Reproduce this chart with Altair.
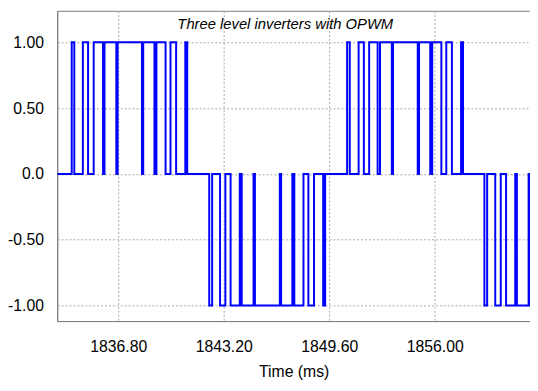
import altair as alt
import pandas as pd

edge_time = [
    # positive half-cycle 1
    1833.973, 1834.129, 1834.649, 1834.965, 1835.306, 1835.874, 1835.963, 1836.680, 1836.758,
    1838.234, 1838.312, 1838.993, 1839.113, 1839.668, 1839.967, 1840.308, 1840.864, 1840.983,
    # negative half-cycle 1
    1842.316, 1842.495, 1842.973, 1843.296, 1843.613, 1844.168, 1844.288, 1845.005, 1845.089,
    1846.600, 1846.678, 1847.359, 1847.479, 1848.035, 1848.333, 1848.674, 1849.230, 1849.349,
    # positive half-cycle 2
    1850.682, 1850.843, 1851.381, 1851.698, 1852.020, 1852.534, 1852.678, 1853.395, 1853.467,
    1854.967, 1855.044, 1855.726, 1855.845, 1856.401, 1856.700, 1857.040, 1857.596, 1857.716,
    # negative half-cycle 2
    1859.012, 1859.180, 1859.670, 1860.004, 1860.327, 1860.883, 1860.984, 1861.695, 1861.773,
]
edge_level = (
    [1, 0] * 9
    + [-1, 0] * 9
    + [1, 0] * 9
    + [-1, 0, -1, 0, -1, 0, -1, 0, -1]
)

start_time = 1833.095
end_time = 1861.779
start_level = 0

x_ticks = [1836.80, 1843.20, 1849.60, 1856.00]
y_ticks = [-1.00, -0.50, 0.0, 0.50, 1.00]
y_domain = [-1.1175, 1.2394]

chart_title = ["Three level inverters with OPWM"]
x_title = "Time (ms)"

df = pd.DataFrame({
    "t": [start_time] + edge_time + [end_time],
    "v": [start_level] + edge_level + [edge_level[-1]],
})
title_df = pd.DataFrame({"label": chart_title})

FONT = "Liberation Sans, Arial, sans-serif"

line = alt.Chart(df).mark_line(
    interpolate="step-after", color="#0000ff", strokeWidth=2, clip=True
).encode(
    x=alt.X(
        "t:Q",
        scale=alt.Scale(domain=[start_time, end_time], nice=False, zero=False),
        axis=alt.Axis(
            values=x_ticks, format=".2f", title=x_title,
            ticks=False, tickSize=0, labelPadding=18, titlePadding=9,
            labelFont=FONT, labelFontSize=16, labelColor="#000000",
            titleFont=FONT, titleFontSize=16, titleFontWeight="normal", titleColor="#000000",
            domainColor="#808080", grid=True, gridColor="#a8a8a8", gridDash=[2, 2],
            labelFlush=False, labelOverlap=False,
        ),
    ),
    y=alt.Y(
        "v:Q",
        scale=alt.Scale(domain=y_domain, nice=False, zero=False),
        axis=alt.Axis(
            values=y_ticks, title=None,
            labelExpr="datum.value == 0 ? '0.0' : (datum.value < 0 ? '-' : '') + format(abs(datum.value), '.2f')",
            ticks=False, tickSize=0, labelPadding=14,
            labelFont=FONT, labelFontSize=16, labelColor="#000000",
            domainColor="#808080", grid=True, gridColor="#a8a8a8", gridDash=[2, 2],
            labelFlush=False, labelOverlap=False,
        ),
    ),
)

title = alt.Chart(title_df).mark_text(
    font=FONT, fontSize=15, fontStyle="italic", color="#000000",
    align="center", baseline="alphabetic",
).encode(
    text="label:N",
    x=alt.value(231.5),
    y=alt.value(18),
)

chart = alt.layer(line, title).properties(
    width=480,
    height=315,
    padding={"left": 50, "top": 0, "right": 0, "bottom": 60},
    autosize=alt.AutoSizeParams(type="none"),
).configure_view(stroke="#808080", strokeWidth=1)

chart.save("out.html", embed_options={"renderer": "svg", "actions": False})
